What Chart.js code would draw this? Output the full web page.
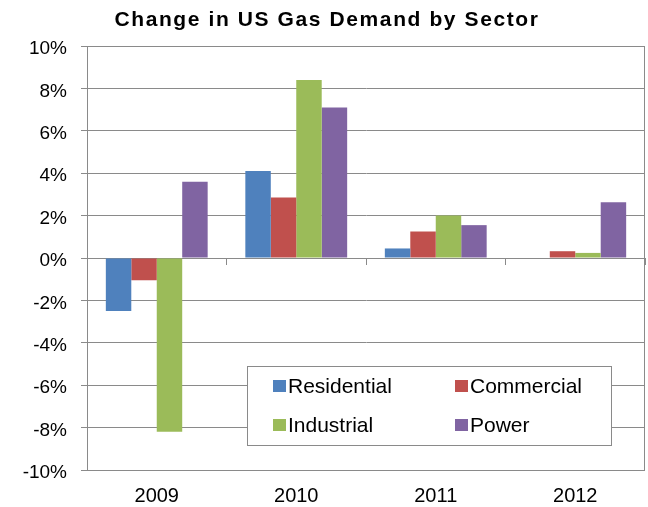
<!DOCTYPE html>
<html>
<head>
<meta charset="utf-8">
<title>Change in US Gas Demand by Sector</title>
<script src="https://cdn.jsdelivr.net/npm/chart.js@4.4.1/dist/chart.umd.min.js"></script>
<style>
  html, body { margin: 0; padding: 0; background: #ffffff; }
  #wrap { width: 648px; height: 507px; position: relative; }
</style>
</head>
<body>
<div id="wrap"><canvas id="chart" width="648" height="507"></canvas></div>
<script>
// Annual change in US natural gas demand, percent, by consuming sector
const years       = ['2009', '2010', '2011', '2012'];
const residential = [-2.5, 4.1, 0.45, 0];
const commercial  = [-1.05, 2.85, 1.25, 0.32];
const industrial  = [-8.2, 8.4, 2.0, 0.24];
const power       = [3.6, 7.1, 1.55, 2.63];

const seriesNames  = ['Residential', 'Commercial', 'Industrial', 'Power'];
const seriesColors = ['#4F81BD', '#C0504D', '#9BBB59', '#8064A2'];

const chartTitle = 'Change in US Gas Demand by Sector';
const yMin = -10, yMax = 10, yStep = 2;

const FONT = '"Liberation Sans", Arial, sans-serif';
const GRID = '#8a8a8a';

// Frame around the plot area
const plotFrame = {
  id: 'plotFrame',
  beforeDatasetsDraw(chart) {
    const { ctx, chartArea: a } = chart;
    ctx.save();
    ctx.strokeStyle = GRID;
    ctx.lineWidth = 1;
    ctx.strokeRect(Math.round(a.left) + 0.5, Math.round(a.top) + 0.5,
                   Math.round(a.right - a.left) - 1, Math.round(a.bottom - a.top));
    ctx.restore();
  }
};

// Title drawn with a little tracking
const spacedTitle = {
  id: 'spacedTitle',
  afterDraw(chart, args, opts) {
    const { ctx } = chart;
    ctx.save();
    ctx.font = 'bold ' + opts.size + 'px ' + FONT;
    if ('letterSpacing' in ctx) ctx.letterSpacing = opts.spacing + 'px';
    ctx.fillStyle = '#000000';
    ctx.textAlign = 'center';
    ctx.textBaseline = 'middle';
    ctx.fillText(opts.text, opts.x, opts.y);
    ctx.restore();
  }
};

// Two-column legend boxed inside the plot area
const boxedLegend = {
  id: 'boxedLegend',
  afterDatasetsDraw(chart, args, o) {
    const { ctx } = chart;
    ctx.save();
    ctx.fillStyle = '#ffffff';
    ctx.fillRect(o.left, o.top, o.right - o.left, o.bottom - o.top);
    ctx.strokeStyle = GRID;
    ctx.lineWidth = 1;
    ctx.strokeRect(o.left + 0.5, o.top + 0.5, o.right - o.left, o.bottom - o.top);
    ctx.font = o.fontSize + 'px ' + FONT;
    ctx.textBaseline = 'middle';
    ctx.textAlign = 'left';
    chart.data.datasets.forEach((ds, i) => {
      const cx = o.cols[i % 2];
      const cy = o.rows[Math.floor(i / 2)];
      ctx.fillStyle = ds.backgroundColor;
      ctx.fillRect(cx, cy - o.box / 2, o.box + 1, o.box);
      ctx.fillStyle = '#000000';
      ctx.fillText(ds.label, cx + o.box + 3, cy + 1);
    });
    ctx.restore();
  }
};

const seriesValues = [residential, commercial, industrial, power];

new Chart(document.getElementById('chart'), {
  type: 'bar',
  data: {
    labels: years,
    datasets: seriesValues.map((vals, i) => ({
      label: seriesNames[i],
      data: vals,
      backgroundColor: seriesColors[i],
      borderWidth: 0,
      barPercentage: 1.0,
      categoryPercentage: 0.73
    }))
  },
  options: {
    responsive: false,
    animation: false,
    devicePixelRatio: 1,
    layout: { padding: { top: 46, right: 3, bottom: 0, left: 0 } },
    plugins: {
      legend: { display: false },
      title: { display: false },
      tooltip: { enabled: false },
      spacedTitle: { text: chartTitle, size: 21, spacing: 1.6, x: 327, y: 20 },
      boxedLegend: {
        left: 247, top: 366, right: 611, bottom: 445,
        cols: [273, 455], rows: [386, 425], box: 12, fontSize: 21
      }
    },
    scales: {
      x: {
        type: 'category',
        position: 'bottom',
        offset: true,
        grid: { display: false },
        border: { display: false },
        ticks: { color: '#000000', font: { family: FONT, size: 20 }, padding: 6, maxRotation: 0 },
        afterFit(scale) { scale.height = 37; }
      },
      xZero: {
        type: 'category',
        labels: years,
        position: { y: 0 },
        offset: true,
        grid: { offset: true, drawOnChartArea: false, drawTicks: true, tickLength: 7, color: GRID },
        border: { display: false },
        ticks: { display: false }
      },
      y: {
        min: yMin,
        max: yMax,
        position: 'left',
        grid: { color: GRID, lineWidth: 1, drawTicks: true, tickLength: 6 },
        border: { display: true, color: GRID },
        ticks: {
          stepSize: yStep,
          color: '#000000',
          font: { family: FONT, size: 19 },
          padding: 14,
          labelOffset: 3,
          callback: (v) => v + '%'
        },
        afterFit(scale) { scale.width = 87; }
      }
    }
  },
  plugins: [plotFrame, boxedLegend, spacedTitle]
});
</script>
</body>
</html>
